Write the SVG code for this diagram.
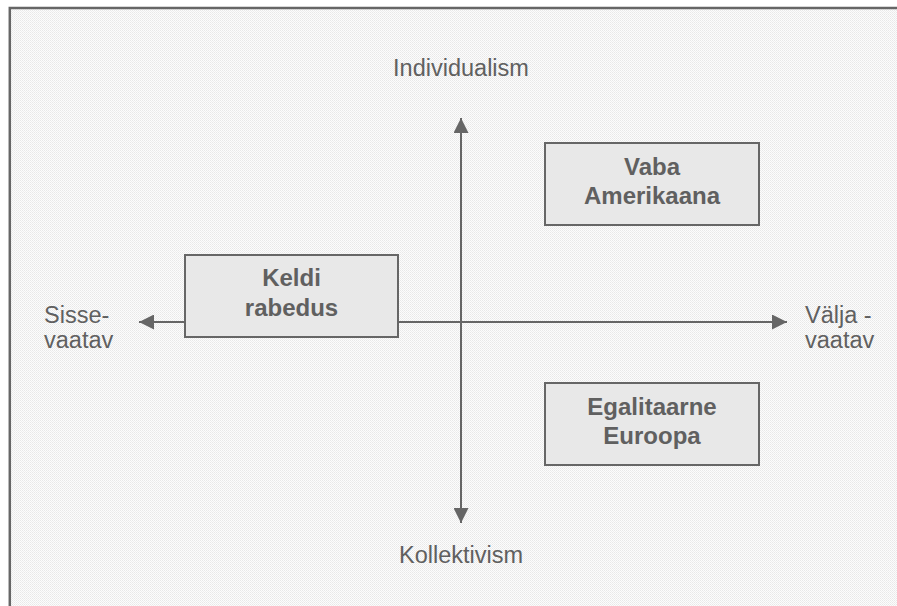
<svg xmlns="http://www.w3.org/2000/svg" width="897" height="606" viewBox="0 0 897 606">
  <defs>
    <pattern id="dots" x="0" y="0" width="2" height="2" patternUnits="userSpaceOnUse">
      <rect width="2" height="2" fill="#fcfcfc"/>
      <rect x="0" y="0" width="1" height="1" fill="#e8e8e8"/>
      <rect x="1" y="1" width="1" height="1" fill="#eeeeee"/>
    </pattern>
    <marker id="arrow" viewBox="0 0 15 15" refX="15" refY="7.5" markerWidth="15" markerHeight="15" markerUnits="userSpaceOnUse" orient="auto-start-reverse">
      <path d="M0,0 L15,7.5 L0,15 Z" fill="#666666"/>
    </marker>
    <style>
      .box { fill: #e8e8e8; stroke: #666666; stroke-width: 2; }
      .bold { font-family: "Liberation Sans", Arial, sans-serif; font-weight: bold; font-size: 24px; fill: #606060; text-anchor: middle; }
      .lbl { font-family: "Liberation Sans", Arial, sans-serif; font-size: 23.5px; fill: #606060; }
      .axis { stroke: #666666; stroke-width: 2; fill: none; }
    </style>
  </defs>

  <rect x="0" y="0" width="897" height="606" fill="#ffffff"/>
  <rect x="10" y="8" width="887" height="598" fill="url(#dots)"/>
  <path d="M9.8,606 V8 H897" fill="none" stroke="#666666" stroke-width="2.5"/>

  <g id="connectors">
    <line class="axis" x1="461" y1="523" x2="461" y2="118" marker-start="url(#arrow)" marker-end="url(#arrow)"/>
    <line class="axis" x1="139" y1="322" x2="787" y2="322" marker-start="url(#arrow)" marker-end="url(#arrow)"/>
  </g>

  <g id="label-individualism">
    <text class="lbl" x="461" y="76" text-anchor="middle">Individualism</text>
  </g>
  <g id="label-kollektivism">
    <text class="lbl" x="461" y="563" text-anchor="middle">Kollektivism</text>
  </g>
  <g id="label-sissevaatav">
    <text class="lbl" x="44" y="323">Sisse-</text>
    <text class="lbl" x="44" y="348">vaatav</text>
  </g>
  <g id="label-valjavaatav">
    <text class="lbl" x="805" y="323">Välja -</text>
    <text class="lbl" x="805" y="348">vaatav</text>
  </g>

  <g id="node-keldi">
    <rect class="box" x="185" y="255" width="213" height="82"/>
    <text class="bold" x="291.5" y="286">Keldi</text>
    <text class="bold" x="291.5" y="316">rabedus</text>
  </g>
  <g id="node-vaba">
    <rect class="box" x="545" y="143" width="214" height="82"/>
    <text class="bold" x="652" y="175">Vaba</text>
    <text class="bold" x="652" y="204">Amerikaana</text>
  </g>
  <g id="node-egalitaarne">
    <rect class="box" x="545" y="383" width="214" height="82"/>
    <text class="bold" x="652" y="415">Egalitaarne</text>
    <text class="bold" x="652" y="444">Euroopa</text>
  </g>
</svg>
